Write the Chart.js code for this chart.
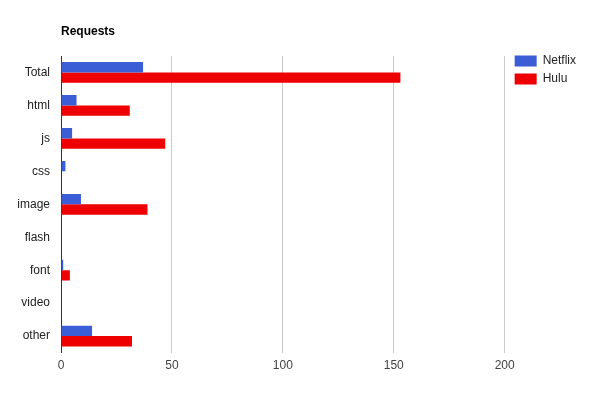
<!DOCTYPE html>
<html>
<head>
<meta charset="utf-8">
<script src="https://cdn.jsdelivr.net/npm/chart.js@4"></script>
<style>
    body { margin: 0; background: #fff; }
</style>
</head>
<body>
<canvas id="requests-chart" width="600" height="402"></canvas>
<script>
// Requests per content type
const categories = ['Total', 'html', 'js', 'css', 'image', 'flash', 'font', 'video', 'other'];
const netflix = [37, 7, 5, 2, 9, 0, 1, 0, 14];
const hulu = [153, 31, 47, 0, 39, 0, 4, 0, 32];
const xTicks = [0, 50, 100, 150, 200];

const titleText = 'Requests';

// draw the bold title lined up with the plot's left edge
const titlePlugin = {
    id: 'leftTitle',
    afterLayout(chart) {
        // legend sits a little right of and above the plot box
        chart.legend.left += 4;
        chart.legend.right += 4;
        chart.legend.top -= 7;
    },
    afterDraw(chart) {
        const c = chart.ctx;
        c.save();
        c.font = 'bold 12px "Liberation Sans", Arial, sans-serif';
        c.fillStyle = '#000';
        c.textBaseline = 'middle';
        c.textAlign = 'left';
        c.fillText(titleText, chart.chartArea.left, 32);
        c.restore();
    },
};

document.addEventListener('DOMContentLoaded', () => {
    const ctx = document.getElementById('requests-chart').getContext('2d');
    Chart.defaults.font.family = '"Liberation Sans", Arial, sans-serif';
    Chart.defaults.font.size = 12;
    Chart.defaults.color = '#222';

    new Chart(ctx, {
        type: 'bar',
        data: {
            labels: categories,
            datasets: [
                {
                    label: 'Netflix',
                    data: netflix,
                    backgroundColor: '#3b5dd6',
                    borderWidth: 0,
                },
                {
                    label: 'Hulu',
                    data: hulu,
                    backgroundColor: '#ee0000',
                    borderWidth: 0,
                },
            ],
        },
        options: {
            indexAxis: 'y',
            responsive: false,
            animation: false,
            layout: {
                padding: { top: 56, bottom: 23, left: 0, right: 18 },
            },
            datasets: {
                bar: {
                    barPercentage: 1,
                    categoryPercentage: 0.63,
                },
            },
            scales: {
                x: {
                    min: 0,
                    max: 200,
                    afterBuildTicks: (scale) => {
                        scale.ticks = xTicks.map((v) => ({ value: v }));
                    },
                    grid: {
                        color: '#cccccc',
                        drawTicks: false,
                    },
                    border: { display: false },
                    ticks: { padding: 6, color: '#444' },
                },
                y: {
                    grid: { display: false, drawTicks: false },
                    border: { display: true, color: '#333', width: 1 },
                    ticks: { padding: 11, color: '#222' },
                    afterFit: (scale) => {
                        scale.width = 61;
                    },
                },
            },
            plugins: {
                legend: {
                    position: 'right',
                    align: 'start',
                    labels: {
                        boxWidth: 22,
                        boxHeight: 11,
                        padding: 6,
                        color: '#222',
                    },
                },
                tooltip: { enabled: false },
            },
        },
        plugins: [titlePlugin],
    });
});
</script>
</body>
</html>
